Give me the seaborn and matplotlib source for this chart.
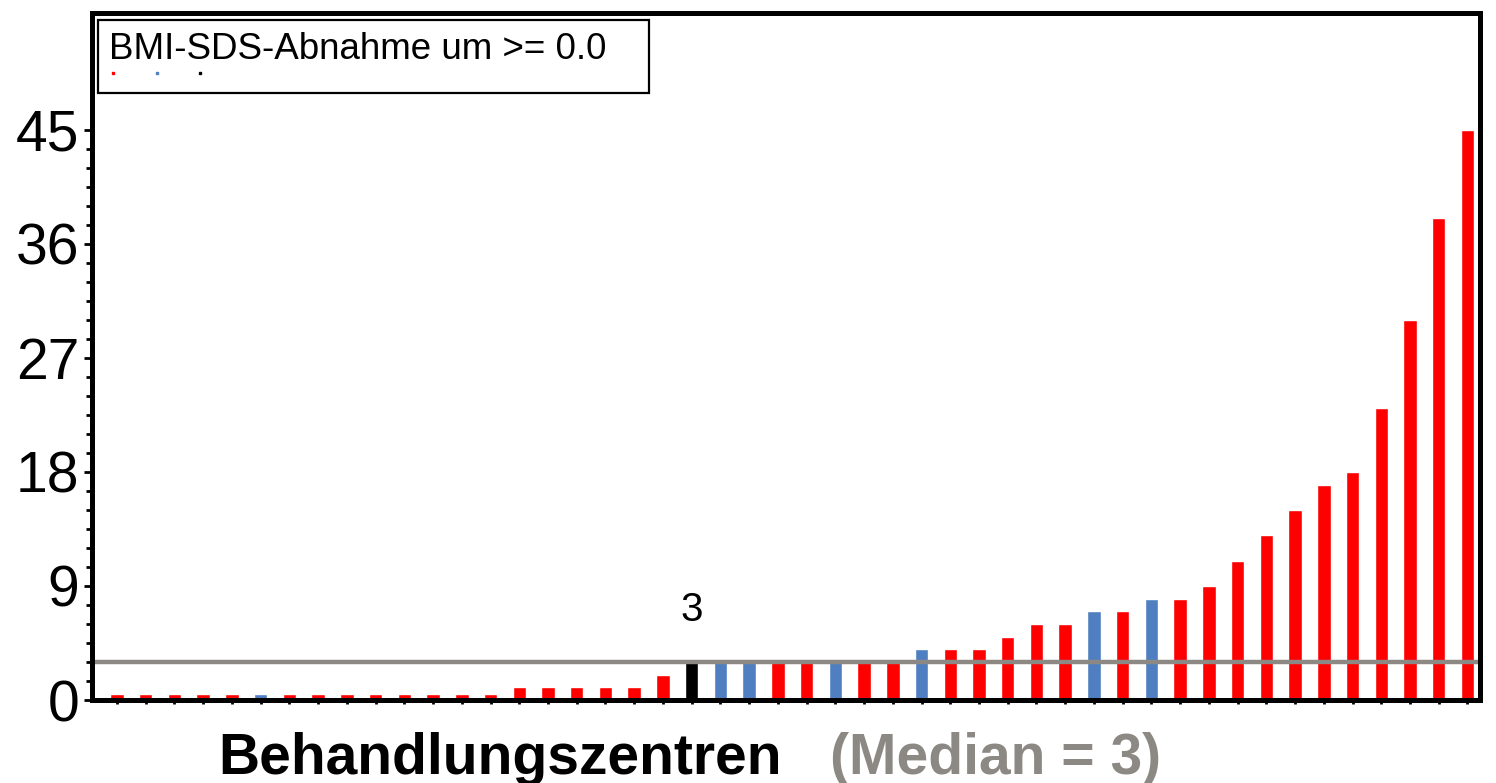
import matplotlib
matplotlib.use("Agg")
import matplotlib.pyplot as plt
import seaborn as sns
import pandas as pd
from matplotlib.lines import Line2D
from matplotlib.ticker import FixedLocator

# centre values, sorted ascending (the zero centres are drawn as small stubs)
werte = [0.5] * 14 + [1, 1, 1, 1, 1, 2, 3, 3, 3, 3, 3, 3, 3, 3,
                      4, 4, 4, 5, 6, 6, 7, 7, 8, 8, 9, 11, 13, 15, 17, 18, 23, 30, 38, 45]
gruppe = (["r"] * 5 + ["b"] + ["r"] * 8 + ["r"] * 6
          + ["k", "b", "b", "r", "r", "b", "r", "r", "b", "r", "r", "r", "r", "r",
             "b", "r", "b", "r", "r", "r", "r", "r", "r", "r", "r", "r", "r", "r"])
y_ticks = [0, 9, 18, 27, 36, 45]
median = 3
legend_title = "BMI-SDS-Abnahme um >= 0.0"

farben = {"r": "#ff0000", "b": "#4f7fc0", "k": "#000000"}
df = pd.DataFrame({"zentrum": range(len(werte)), "wert": werte, "gruppe": gruppe})

sns.set_theme(style="white")
plt.rcParams["font.family"] = ["Liberation Sans", "DejaVu Sans"]

fig = plt.figure(figsize=(14.96, 7.83), dpi=100)
ax = fig.add_axes([0.0615, 0.106, 0.9275, 0.8774])

sns.barplot(data=df, x="zentrum", y="wert", hue="gruppe", palette=farben,
            dodge=False, width=0.47, legend=False, ax=ax, saturation=1,
            native_scale=True)

ax.axhline(median, color="#8c8984", lw=3.2, zorder=5)

# label over the median centre
idx_med = gruppe.index("k")
ax.annotate(str(median), (idx_med, werte[idx_med]), xytext=(0, 24),
            textcoords="offset points", ha="center", va="bottom", fontsize=29,
            color="black")

ax.set_xlim(-0.87, len(werte) - 0.58)
ax.set_ylim(0, 54.2)
ax.yaxis.set_major_locator(FixedLocator(y_ticks))
ax.yaxis.set_minor_locator(FixedLocator([i * 1.5 for i in range(31)]))
ax.set_xticks(range(len(werte)))
ax.set_xticklabels([])
ax.tick_params(axis="y", which="major", direction="out", length=6, width=2,
               labelsize=41, left=True, pad=3, labelcolor="black", color="black")
ax.tick_params(axis="y", which="minor", direction="out", length=4, width=2,
               left=True, color="black")
ax.tick_params(axis="x", direction="out", length=3, width=2, bottom=True, color="black")
ax.set_xlabel("")
ax.set_ylabel("")
for s in ax.spines.values():
    s.set_linewidth(3.6)
    s.set_color("black")
    s.set_zorder(10)

# legend: title line with three tiny markers below
handles = [Line2D([], [], ls="", marker="s", markersize=2, color=farben[c]) for c in ["r", "b", "k"]]
leg = ax.legend(handles, ["", "", ""], title=legend_title + "   ", ncol=3, loc="upper left",
                bbox_to_anchor=(0.004, 0.99), borderaxespad=0, frameon=True, fancybox=False,
                edgecolor="black", framealpha=1, title_fontsize=26.5, prop={"size": 12},
                handlelength=0.5, columnspacing=1.9, borderpad=0.7,
                labelspacing=0.0, handletextpad=0.2)
leg.get_frame().set_linewidth(1.6)
leg.get_title().set_color("black")
leg._legend_box.align = "left"

fig.text(0.1457, 0.012, "Behandlungszentren", fontsize=41, fontweight="bold",
         color="black", ha="left", va="baseline")
fig.text(0.555, 0.012, "(Median = 3)", fontsize=41, fontweight="bold",
         color="#8c8984", ha="left", va="baseline")

fig.savefig("out.png", dpi=100)
